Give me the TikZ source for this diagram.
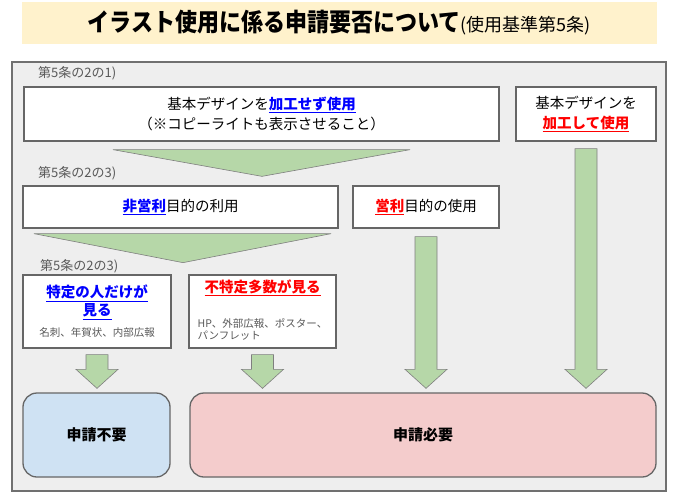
\documentclass[tikz,border=0pt]{standalone}
\usepackage{fontspec}
\setmainfont{Noto Sans CJK JP}
\usetikzlibrary{positioning, calc}

\definecolor{bannerfill}{HTML}{FFF2CC}
\definecolor{framefill}{HTML}{EEEEEE}
\definecolor{framegray}{HTML}{707070}
\definecolor{boxline}{HTML}{666666}
\definecolor{bargreen}{HTML}{B6D7A8}
\definecolor{barline}{HTML}{7F7F7F}
\definecolor{okblue}{HTML}{CFE2F3}
\definecolor{ngpink}{HTML}{F4CCCC}
\definecolor{taggray}{HTML}{595959}
\definecolor{linkblue}{HTML}{0000FF}
\definecolor{alertred}{HTML}{FF0000}

\newcommand{\titlefont}{\fontsize{25}{28}\selectfont\bfseries}
\newcommand{\subtitlefont}{\fontsize{18}{20}\selectfont\mdseries}
\newcommand{\boxfont}{\fontsize{14.5}{18}\selectfont}
\newcommand{\tagfont}{\fontsize{13}{15}\selectfont}
\newcommand{\notefont}{\fontsize{10.5}{12}\selectfont}
\newcommand{\resultfont}{\fontsize{15}{18}\selectfont\bfseries}

% thick green arrow: #1 = top of the shaft, #2 = tip (only its y is used)
\newcommand{\bararrow}[2]{%
  \draw[bar] let \p1=(#1), \p2=(#2) in
    (\x1-11pt,\y1) -- (\x1+11pt,\y1) -- (\x1+11pt,\y2+19pt) -- (\x1+21pt,\y2+19pt)
    -- (\x1,\y2) -- (\x1-21pt,\y2+19pt) -- (\x1-11pt,\y2+19pt) -- cycle;}

\begin{document}
\begin{tikzpicture}[
        x=1pt, y=-1pt,
        banner/.style={fill=bannerfill, minimum width=635, minimum height=42, inner sep=0pt, font=\titlefont},
        box/.style={draw=boxline, fill=white, line width=1.3pt, inner sep=0pt, align=center, font=\boxfont},
        tag/.style={text=taggray, font=\tagfont, anchor=west, inner sep=0pt},
        result/.style={box, rounded corners=14pt, minimum height=84, font=\resultfont},
        bar/.style={draw=barline, fill=bargreen, line width=0.6pt}
    ]
        \useasboundingbox (0,0) rectangle (676,496);

        % Title
        \node (title) [banner] at (339.5,23) {\scalebox{0.88}[1]{イラスト使用に係る申請要否について}{\subtitlefont (使用基準第5条)}};

        % Frame
        \node (frame) [draw=framegray, fill=framefill, line width=2pt, minimum width=654, minimum height=429] at (339,276.5) {};

        % Base design
        \node (art1) [tag] at (38,73) {第5条の2の1)};
        \node (plain) [box, minimum width=475, minimum height=54] at (261.5,114) {基本デザインを\textcolor{linkblue}{\bfseries\underline{加工せず使用}}\\[2pt]（※コピーライトも表示させること）};
        \node (edited) [box, minimum width=140, minimum height=54] at (586,114) {基本デザインを\\[2pt]\textcolor{alertred}{\bfseries\underline{加工して使用}}};

        % Purpose
        \node (art2) [tag] at (38,173) {第5条の2の3)};
        \node (nonprofit) [box, minimum width=315, minimum height=42] at (180.5,207) {\textcolor{linkblue}{\bfseries\underline{非営利}}目的の利用};
        \node (profit) [box, minimum width=146, minimum height=42] at (426,207) {\textcolor{alertred}{\bfseries\underline{営利}}目的の使用};

        % Audience
        \node (art3) [tag] at (40,266) {第5条の2の3)};
        \node (limited) [box, minimum width=148, minimum height=73] at (97,311.5) {\textcolor{linkblue}{\bfseries\underline{特定の人だけが}}\\\textcolor{linkblue}{\bfseries\underline{見る}}\\[3pt]{\notefont\color{taggray}名刺、年賀状、内部広報}};
        \node (public) [box, minimum width=147, minimum height=73] at (262.5,311.5) {\textcolor{alertred}{\bfseries\underline{不特定多数が見る}}\\[21pt]{\notefont\color{taggray}\begin{tabular}{@{}l@{}}HP、外部広報、ポスター、\\パンフレット\end{tabular}}};

        % Results
        \node (free) [result, fill=okblue, minimum width=147] at (96.5,435) {申請不要};
        \node (apply) [result, fill=ngpink, minimum width=466] at (423,435) {申請必要};

        % Funnels
        \draw [bar] ([xshift=-148.5pt,yshift=-8pt]plain.south) -- ([xshift=148.5pt,yshift=-8pt]plain.south) -- ([xshift=81.5pt,yshift=9pt]nonprofit.north) -- cycle;
        \draw [bar] ([xshift=-146.5pt,yshift=-5pt]nonprofit.south) -- ([xshift=150.5pt,yshift=-5pt]nonprofit.south) -- ([xshift=2.5pt,yshift=-34pt]nonprofit.south) -- cycle;

        % Arrows
        \bararrow{[yshift=-6pt]limited.south}{[yshift=4pt]free.north}
        \bararrow{[yshift=-6pt]public.south}{[yshift=4pt]apply.north}
        \bararrow{[yshift=-8pt]profit.south}{[yshift=4pt]apply.north}
        \bararrow{[yshift=-7pt]edited.south}{[yshift=4pt]apply.north}
    \end{tikzpicture}
\end{document}
